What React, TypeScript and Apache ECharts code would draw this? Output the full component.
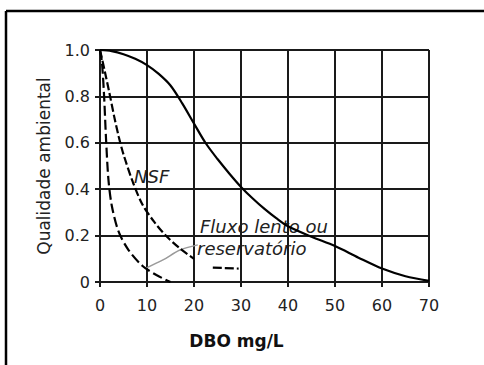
import React, { useEffect, useRef } from "react";
import * as echarts from "echarts";

const xTicks = [0, 10, 20, 30, 40, 50, 60, 70];
const yTickLabels = ["0", "0.2", "0.4", "0.6", "0.8", "1.0"];

// Solid curve (general)
const mainCurve: [number, number][] = [
  [0, 1.0], [2.5, 0.995], [5, 0.982], [7.5, 0.962], [10, 0.935], [12.5, 0.897],
  [15, 0.847], [17.5, 0.77], [20, 0.683], [22.5, 0.598], [25, 0.53], [27.5, 0.468],
  [30, 0.41], [32.5, 0.36], [35, 0.315], [37.5, 0.275], [40, 0.24], [45, 0.195],
  [50, 0.155], [55, 0.105], [60, 0.058], [65, 0.025], [70, 0.005],
];

// NSF curve (dashed)
const nsfCurve: [number, number][] = [
  [0, 1.0], [1, 0.91], [2, 0.815], [3, 0.715], [4, 0.625], [5, 0.55], [7, 0.43],
  [9, 0.335], [11.5, 0.26], [14, 0.2], [17, 0.145], [20, 0.1],
];
const nsfTail: [number, number][] = [[24, 0.062], [29.5, 0.058]];

// Fluxo lento ou reservatório (steep dashed)
const slowCurve: [number, number][] = [
  [0, 1.0], [0.4, 0.95], [0.85, 0.81], [1.3, 0.61], [1.8, 0.44], [2.5, 0.33],
  [3.9, 0.22], [6, 0.14], [9, 0.07], [12, 0.03], [15, 0.0],
];

// grey pointer from the label to the curve
const pointerLine: [number, number][] = [[20.8, 0.16], [17, 0.138], [13.4, 0.095], [9.8, 0.06]];

export default function App() {
  const ref = useRef<HTMLDivElement>(null);
  useEffect(() => {
    document.body.style.margin = "0";
    const chart = echarts.init(ref.current!, null, { renderer: "svg" });
    const axisColor = "#1a1a1a";
    chart.setOption({
      animation: false,
      backgroundColor: "#ffffff",
      grid: { left: 100, right: 55, top: 50, bottom: 83 },
      xAxis: {
        type: "value",
        min: 0,
        max: 70,
        interval: 10,
        name: "DBO mg/L",
        nameLocation: "middle",
        nameGap: 50,
        nameTextStyle: {
          fontFamily: "DejaVu Sans",
          fontWeight: "bold",
          fontSize: 17,
          color: "#111",
          padding: [0, 56, 0, 0],
        },
        axisLine: { show: true, lineStyle: { color: axisColor, width: 2 } },
        axisTick: { show: true, length: 5, lineStyle: { color: axisColor, width: 2 } },
        splitLine: { show: true, lineStyle: { color: axisColor, width: 2 } },
        axisLabel: {
          margin: 15,
          fontFamily: "DejaVu Sans",
          fontSize: 16,
          color: "#222",
          formatter: (v: number) => String(xTicks[Math.round(v / 10)] ?? v),
        },
      },
      yAxis: {
        type: "value",
        min: 0,
        max: 1,
        interval: 0.2,
        name: "Qualidade ambiental",
        nameLocation: "middle",
        nameGap: 48,
        nameTextStyle: {
          fontFamily: "DejaVu Sans",
          fontSize: 17,
          color: "#222",
        },
        axisLine: { show: true, lineStyle: { color: axisColor, width: 2 } },
        axisTick: { show: true, length: 5, lineStyle: { color: axisColor, width: 2 } },
        splitLine: { show: true, lineStyle: { color: axisColor, width: 2 } },
        axisLabel: {
          margin: 10,
          fontFamily: "DejaVu Sans",
          fontSize: 16,
          color: "#222",
          formatter: (v: number) => yTickLabels[Math.round(v / 0.2)] ?? String(v),
        },
      },
      series: [
        {
          type: "line",
          name: "Geral",
          data: mainCurve,
          smooth: 0.3,
          symbol: "none",
          lineStyle: { color: "#000", width: 2.2 },
        },
        {
          type: "line",
          name: "NSF",
          data: nsfCurve,
          smooth: 0.3,
          symbol: "none",
          lineStyle: { color: "#000", width: 2.2, type: [8, 3] },
        },
        {
          type: "line",
          name: "NSF (cont.)",
          data: nsfTail,
          symbol: "none",
          lineStyle: { color: "#000", width: 2.2, type: [9, 3] },
        },
        {
          type: "line",
          name: "Fluxo lento ou reservatório",
          data: slowCurve,
          smooth: 0.3,
          symbol: "none",
          lineStyle: { color: "#000", width: 2.2, type: [10, 4] },
        },
        {
          type: "line",
          name: "pointer",
          data: pointerLine,
          smooth: 0.3,
          symbol: "none",
          lineStyle: { color: "#9a9a9a", width: 1.5 },
          z: 1,
        },
      ],
      graphic: [
        { type: "line", shape: { x1: 6, y1: 11, x2: 484, y2: 11 }, style: { stroke: "#000", lineWidth: 2.5 } },
        { type: "line", shape: { x1: 6, y1: 11, x2: 6, y2: 365 }, style: { stroke: "#000", lineWidth: 2.5 } },
        {
          type: "text",
          x: 134,
          y: 176.5,
          style: {
            text: "NSF",
            fontFamily: "DejaVu Sans",
            fontStyle: "italic",
            fontSize: 18,
            fill: "#222",
            verticalAlign: "middle",
          },
        },
        {
          type: "text",
          x: 200,
          y: 226.5,
          style: {
            text: "Fluxo lento ou",
            fontFamily: "DejaVu Sans",
            fontStyle: "italic",
            fontSize: 18,
            fill: "#222",
            verticalAlign: "middle",
          },
        },
        {
          type: "text",
          x: 197,
          y: 248.5,
          style: {
            text: "reservatório",
            fontFamily: "DejaVu Sans",
            fontStyle: "italic",
            fontSize: 18,
            fill: "#222",
            verticalAlign: "middle",
          },
        },
      ],
    });
    return () => chart.dispose();
  }, []);
  return <div ref={ref} style={{ width: 484, height: 365 }} />;
}
